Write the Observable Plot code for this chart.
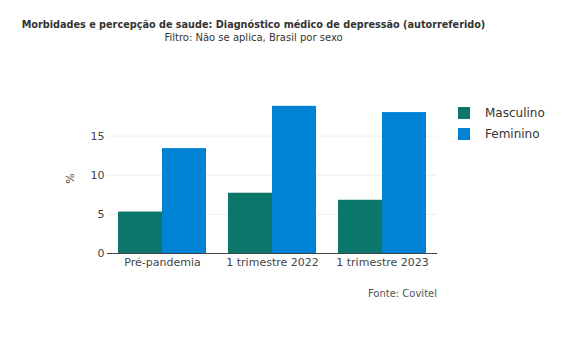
<!DOCTYPE html>
<html>
<head>
<meta charset="utf-8">
<script src="https://cdn.jsdelivr.net/npm/d3@7"></script>
<script src="https://cdn.jsdelivr.net/npm/@observablehq/plot@0.6"></script>
<style>
  html, body { margin: 0; padding: 0; background: #fff; }
  #wrap { position: relative; width: 587px; height: 340px; overflow: hidden; font-family: "DejaVu Sans", Verdana, sans-serif; }
  #chart { position: absolute; left: 0; top: 0; }
  .title { position: absolute; left: 0; width: 507px; text-align: center; color: #333; white-space: nowrap; }
  #t1 { top: 19px; font-size: 9.7px; font-weight: bold; }
  #t2 { top: 32px; font-size: 10px; }
  #ylab { position: absolute; left: 65px; top: 172px; font-size: 11px; color: #444; transform: rotate(-90deg); transform-origin: center; }
  #legend { position: absolute; left: 458px; top: 103px; font-size: 12px; color: #333; }
  .li { display: flex; align-items: center; height: 20.5px; }
  .sw { width: 12px; height: 12px; margin-right: 15px; }
  #caption { position: absolute; right: 150px; top: 288px; font-size: 10px; color: #555; }
</style>
</head>
<body>
<div id="wrap">
  <div id="chart"></div>
  <div class="title" id="t1">Morbidades e percepção de saude: Diagnóstico médico de depressão (autorreferido)</div>
  <div class="title" id="t2">Filtro: Não se aplica, Brasil por sexo</div>
  <div id="ylab">%</div>
  <div id="legend"></div>
  <div id="caption">Fonte: Covitel</div>
</div>
<script>
const categories = ["Pré-pandemia", "1 trimestre 2022", "1 trimestre 2023"];
const series = ["Masculino", "Feminino"];
const masculino = [5.3, 7.7, 6.8];
const feminino = [13.4, 18.8, 18.0];
const yTicks = [0, 5, 10, 15];
const colors = ["#0b766a", "#0082d5"];

const W = 587, H = 340, mL = 107, mR = 150, mT = 98, mB = 87;

const rows = [];
categories.forEach((c, i) => {
  rows.push({cat: c, sex: series[0], v: masculino[i]});
  rows.push({cat: c, sex: series[1], v: feminino[i]});
});

const band = d3.scaleBand().domain(categories).range([mL, W - mR]).paddingInner(0.2).paddingOuter(0.1);
const half = band.bandwidth() / 2;

const chart = Plot.plot({
  width: W, height: H,
  marginLeft: mL, marginRight: mR, marginTop: mT, marginBottom: mB,
  style: {fontFamily: "DejaVu Sans, Verdana, sans-serif", fontSize: "11px", color: "#444", background: "white"},
  x: {domain: categories, paddingInner: 0.2, paddingOuter: 0.1, round: false, label: null, tickSize: 0, tickPadding: 5},
  y: {domain: [0, 19.8], ticks: yTicks, label: null, tickSize: 0, tickPadding: 3},
  color: {domain: series, range: colors},
  marks: [
    Plot.ruleY(yTicks.filter(d => d > 0), {stroke: "#eeeeee", strokeWidth: 1}),
    Plot.barY(rows.filter(d => d.sex === series[0]), {x: "cat", y: "v", fill: "sex", insetRight: half}),
    Plot.barY(rows.filter(d => d.sex === series[1]), {x: "cat", y: "v", fill: "sex", insetLeft: half}),
    Plot.ruleY([0], {stroke: "#444", strokeWidth: 1})
  ]
});
document.getElementById("chart").appendChild(chart);

const leg = document.getElementById("legend");
series.forEach((s, i) => {
  const row = document.createElement("div");
  row.className = "li";
  const sw = document.createElement("span");
  sw.className = "sw";
  sw.style.background = colors[i];
  const t = document.createElement("span");
  t.textContent = s;
  row.appendChild(sw); row.appendChild(t);
  leg.appendChild(row);
});
</script>
</body>
</html>
